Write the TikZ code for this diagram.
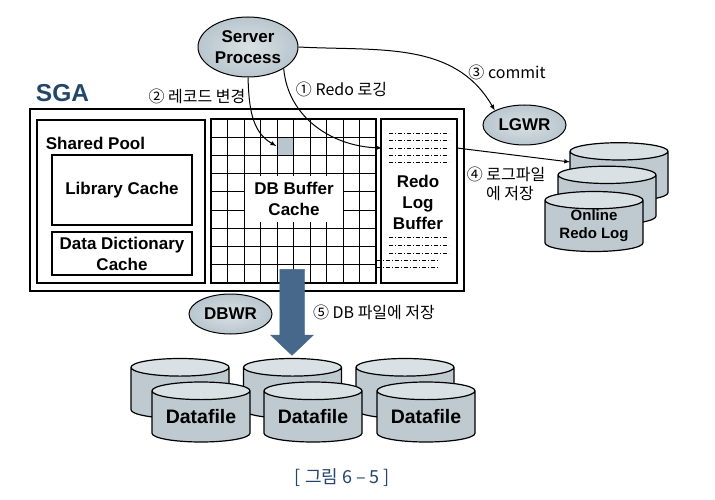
\documentclass[tikz,border=0pt]{standalone}
\usepackage{fontspec}
\setmainfont{Liberation Sans}
\newfontfamily\kr{Noto Sans CJK KR}
\usetikzlibrary{shapes.geometric,shapes.arrows}
\definecolor{navy}{HTML}{23466B}
\definecolor{steel}{HTML}{46688A}
\definecolor{cellgray}{HTML}{B9C6CE}
\definecolor{bodygray}{HTML}{BECAD0}
\definecolor{endgray}{HTML}{D9E1E4}
\newcommand{\bfsize}[2]{\fontsize{#1}{#2}\selectfont\bfseries}
\tikzset{
  box/.style={draw,line width=1.5pt,inner sep=0pt,align=center},
  proc/.style={ellipse,draw,line width=1pt,inner sep=0pt,minimum width=83pt,minimum height=40pt,
    inner color=endgray,outer color=cellgray,align=center,font=\bfsize{17}{21}},
  disk/.style={cylinder,shape border rotate=90,draw,line width=1.2pt,inner sep=0pt,anchor=shape center,
    minimum width=98pt,minimum height=60pt,aspect=0.25,cylinder uses custom fill,
    cylinder body fill=bodygray,cylinder end fill=endgray,align=center},
  note/.style={font=\kr\fontsize{16}{19}\selectfont,inner sep=0pt,align=center},
  title/.style={font=\bfsize{17}{21},inner sep=0pt,align=center}
}
\begin{document}
\begin{tikzpicture}[x=1pt,y=-1pt,>=latex,line width=1pt]
  \useasboundingbox (0,0) rectangle (715,500);
  % memory boxes
  \node[box,line width=2pt,minimum width=434pt,minimum height=182pt] (sga) at (247,200) {};
  \node[inner sep=0pt,font=\bfsize{24.5}{29},text=navy] (sgatext) at (62.5,93) {SGA};
  \node[box,minimum width=168pt,minimum height=163pt] (pool) at (121,201.5) {};
  \node[title] (pooltext) at (95.5,143) {Shared Pool};
  \node[box,minimum width=140pt,minimum height=70pt,font=\bfsize{17}{21}] (library) at (122,190) {Library Cache};
  \node[box,minimum width=140pt,minimum height=43pt,font=\bfsize{17}{21}] (dict) at (122,253.5) {Data Dictionary\\Cache};
  % buffer cache grid
  \node[box,minimum width=165pt,minimum height=164pt] (buffer) at (293.5,201) {};
  \node[fill=cellgray,minimum width=16.5pt,minimum height=18.2pt,inner sep=0pt] (cell) at (285,146) {};
  \foreach \i in {1,...,9}
    \draw[line width=.9pt] (211+16.5*\i,119) -- (211+16.5*\i,283);
  \foreach \i in {1,...,8}
    \draw[line width=.9pt] (211,119+18.2*\i) -- (376,119+18.2*\i);
  \node[title,fill=white,minimum width=98pt,minimum height=45pt] (buffertext) at (294,199) {DB Buffer\\Cache};
  % redo log buffer
  \node[box,minimum width=76pt,minimum height=164pt] (redo) at (419,201) {};
  \foreach \y in {133,140,148,155,162,237,245,253}
    \draw[line width=.6pt,dash pattern=on 4pt off 2pt on 1pt off 2pt] (389,\y) -- (449,\y);
  \foreach \y in {260,267}
    \draw[line width=.6pt,dash pattern=on 4pt off 2pt on 1pt off 2pt] (377,\y) -- (438,\y);
  \node[title] (redotext) at (418,202) {Redo\\Log\\Buffer};
  \coordinate (redoin) at (382,148);
  \coordinate (redoout) at (457,148);
  % processes
  \node[proc,minimum width=100pt,minimum height=60pt] (server) at (248,47) {Server\\Process};
  \node[proc] (lgwr) at (524.5,125) {LGWR};
  \node[proc] (dbwr) at (230.5,314) {DBWR};
  % online redo logs
  \node[disk,minimum height=57pt,font=\bfsize{15}{18}] (log1) at (619,172) {\phantom{Online}\\\phantom{Redo Log}};
  \node[disk,minimum height=57pt,font=\bfsize{15}{18}] (log2) at (607,195.5) {\phantom{Online}\\\phantom{Redo Log}};
  \node[disk,font=\bfsize{15}{18}] (log3) at (594,221.5) {Online\\Redo Log};
  \coordinate (login) at (570,162);
  % datafiles
  \foreach \i/\x in {1/180,2/292.5,3/405}
    \node[disk,font=\bfsize{19.5}{23}] (back\i) at (\x,388.5) {\phantom{Datafile}};
  \foreach \i/\x in {1/201,2/313,3/426}
    \node[disk,font=\bfsize{19.5}{23}] (data\i) at (\x,412) {Datafile};
  % big arrow
  \node[single arrow,shape border rotate=270,draw=steel,fill=steel,line width=.5pt,inner sep=12pt,
    minimum height=86pt,minimum width=42pt,single arrow head extend=9pt,
    single arrow tip angle=93,single arrow head indent=0pt] (flush) at (292,306.5) {};
  % labels
  \node[note] (step1) at (341.5,89) {① Redo 로깅};
  \node[note] (step2) at (197,96) {② 레코드 변경};
  \node[note] (step3) at (507,72) {③ commit};
  \node[note] (step4) at (506,183.5) {④ 로그파일\\\hspace*{8pt}에 저장};
  \node[note] (step5) at (374,312) {⑤ DB 파일에 저장};
  \node[note,font=\kr\fontsize{18}{21}\selectfont,text=navy] (caption) at (342.5,478) {[ 그림 6 – 5 ]};
  % connectors
  \path[->]
  (server.south)
  edge [out=-88,in=150] (cell.west)
  (server.south east)
  edge [out=-85,in=178] (redoin)
  (server.east)
  edge [out=-3,in=120] (lgwr.north west)
  (redoout)
  edge [] (login)
  ;
\end{tikzpicture}
\end{document}
